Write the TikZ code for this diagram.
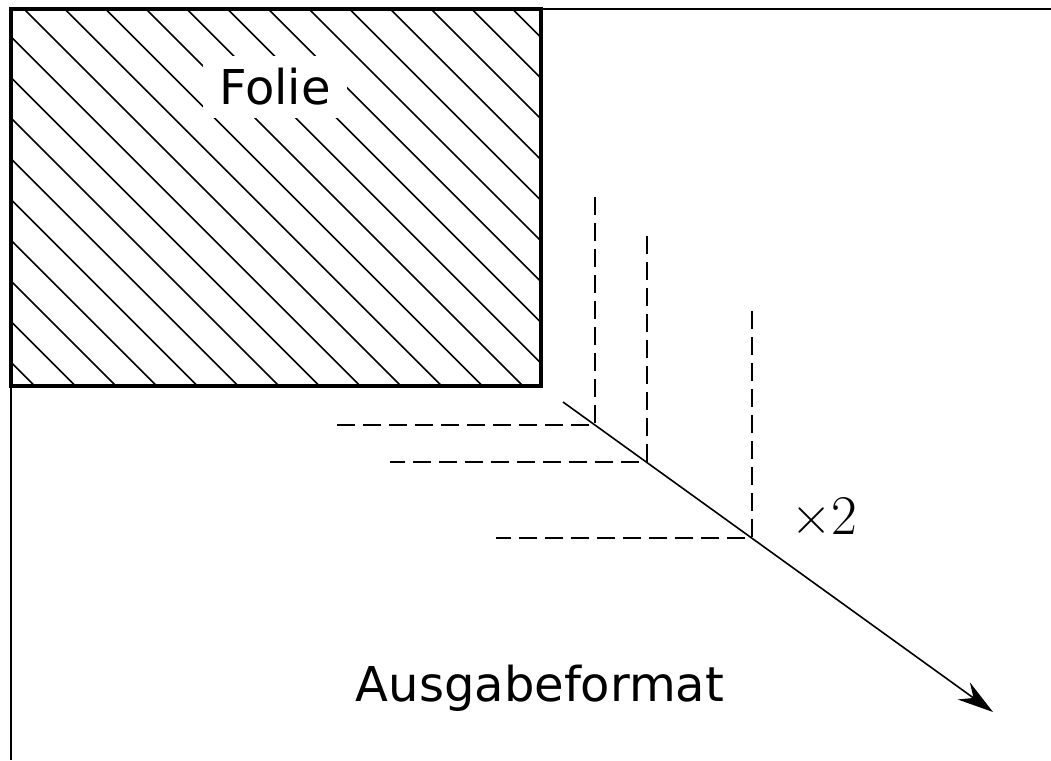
\documentclass[tikz,border=0pt]{standalone}
\usepackage{fontspec}
\newfontfamily\dejavu{DejaVu Sans}
\newfontfamily\lmroman{Latin Modern Roman}
\usetikzlibrary{arrows.meta}
\tikzset{
  frameline/.style={line width=2pt},
  foliebox/.style={line width=4pt},
  hatchline/.style={line width=1.6pt},
  dashline/.style={line width=1.6pt, dash pattern=on 18pt off 8pt},
  scaleline/.style={line width=1.6pt, -{Stealth[length=36pt,width=21pt,inset=12pt]}},
  label/.style={font=\dejavu\fontsize{48}{58}\selectfont, inner sep=0pt}
}
\begin{document}
\begin{tikzpicture}[x=1pt,y=-1pt]
\useasboundingbox (0,0) rectangle (1051,760);
% outer frame
\coordinate (tl) at (11,9);
\coordinate (tr) at (1051,9);
\coordinate (bl) at (11,760);
\draw[frameline] (tr) -- (tl) -- (bl);
% hatched slide
\begin{scope}
\clip (11,9) rectangle (541,386);
\foreach \k in {-10,...,14} {
  \pgfmathsetmacro{\c}{15+40.7*\k}
  \draw[hatchline] (\c,0) -- (\c+420,420);
}
\end{scope}
\draw[foliebox] (11,9) rectangle (541,386);
\node[label, fill=white, inner xsep=16pt, inner ysep=12pt] (folie) at (275,87) {Folie};
% dashed corners
\coordinate (c1) at (595,425);
\coordinate (c2) at (647,462);
\coordinate (c3) at (752,538);
\coordinate (v1) at (595,197);
\coordinate (v2) at (647,236);
\coordinate (v3) at (752,311);
\coordinate (h1) at (337,425);
\coordinate (h2) at (390,462);
\coordinate (h3) at (496,538);
\draw[dashline] (v1) -- (c1) -- (h1);
\draw[dashline] (v2) -- (c2) -- (h2);
\draw[dashline] (v3) -- (c3) -- (h3);
% scaling arrow
\coordinate (as) at (563,402);
\coordinate (ae) at (993,712);
\draw[scaleline] (as) -- (ae);
\node[inner sep=0pt, font=\lmroman\fontsize{56}{66}\selectfont] (times) at (824,516) {×2};
\node[label] (ausgabe) at (540,688) {Ausgabeformat};
\end{tikzpicture}
\end{document}
